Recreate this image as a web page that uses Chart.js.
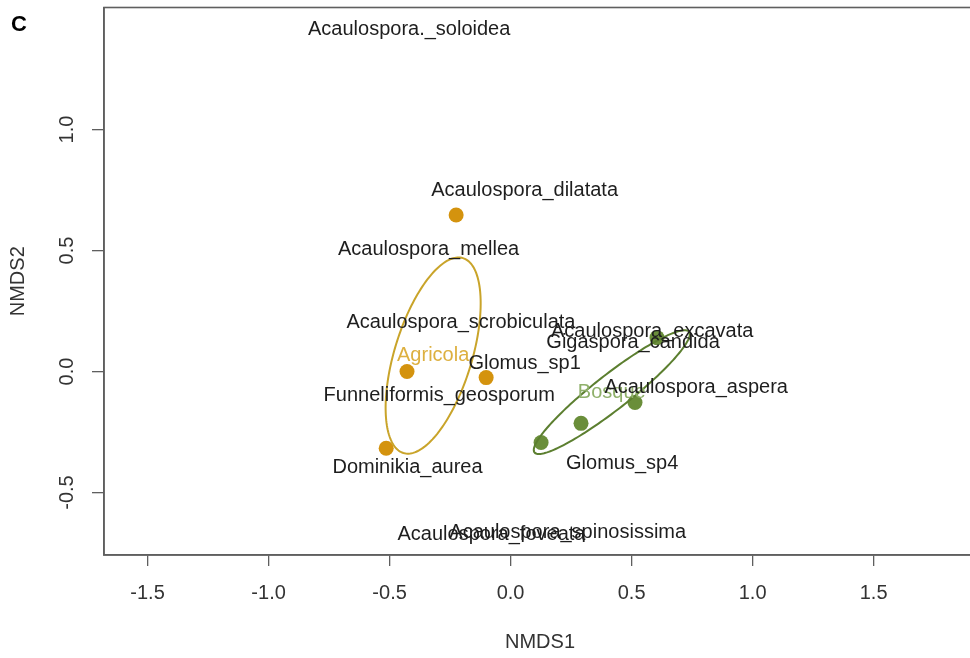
<!DOCTYPE html>
<html><head><meta charset="utf-8">
<script src="https://cdn.jsdelivr.net/npm/chart.js@4.4.1/dist/chart.umd.min.js"></script>
<style>
html,body{margin:0;padding:0;overflow:hidden;background:#fff;width:970px;height:658px}
#wrap{position:absolute;left:0;top:0;width:1010px;height:658px}
</style>
</head><body><div id="wrap"><canvas id="c"></canvas></div>
<script>
// ---- data ----
const xTickValues = [-1.5, -1.0, -0.5, 0.0, 0.5, 1.0, 1.5];
const yTickValues = [-0.5, 0.0, 0.5, 1.0];

const agricolaX = [-0.225, -0.428, -0.101, -0.514];
const agricolaY = [0.647, 0.000, -0.025, -0.317];
const bosqueX = [0.605, 0.514, 0.291, 0.126];
const bosqueY = [0.140, -0.128, -0.214, -0.293];

const speciesNames = [
  'Acaulospora._soloidea', 'Acaulospora_dilatata', 'Acaulospora_mellea',
  'Acaulospora_scrobiculata', 'Glomus_sp1', 'Funneliformis_geosporum',
  'Dominikia_aurea', 'Acaulospora_excavata', 'Gigaspora_candida',
  'Acaulospora_aspera', 'Glomus_sp4', 'Acaulospora_spinosissima',
  'Acaulospora_foveata'
];
const speciesX = [-0.419, 0.058, -0.339, -0.205, 0.058, -0.295, -0.426, 0.585, 0.506, 0.767, 0.461, 0.236, -0.079];
const speciesY = [1.413, 0.746, 0.503, 0.202, 0.033, -0.099, -0.396, 0.165, 0.119, -0.066, -0.379, -0.663, -0.672];

const groupNames = ['Agricola', 'Bosque'];
const ellipseCX = [-0.320, 0.418];
const ellipseCY = [0.066, -0.085];
const ellipseA = [0.421, 0.405];
const ellipseB = [0.160, 0.072];
const ellipseAngle = [73, 38];

// ---- styles ----
const FONT = '"Liberation Sans", Arial, Helvetica, sans-serif';
const orange = '#D4930E';
const green = '#6A8E3A';
const ellipseColors = ['#C9A42A', '#5C7F30'];
const groupTextColors = ['#DDB040', '#8FB06A'];
const axisColor = '#5f5f5f';
const textColor = '#1e1e1e';

const toPts = (xs, ys) => xs.map((v, i) => ({x: v, y: ys[i]}));

const overlay = {
  id: 'overlay',
  afterDatasetsDraw(chart) {
    const {ctx, chartArea: a, scales: {x, y}} = chart;
    ctx.save();
    // plot box
    ctx.strokeStyle = axisColor;
    ctx.lineWidth = 1.6;
    ctx.strokeRect(a.left, a.top, a.right - a.left, a.bottom - a.top);
    // ellipses
    for (let i = 0; i < ellipseCX.length; i++) {
      const phi = ellipseAngle[i] * Math.PI / 180;
      ctx.beginPath();
      for (let k = 0; k <= 180; k++) {
        const t = 2 * Math.PI * k / 180;
        const dx = ellipseA[i] * Math.cos(t), dy = ellipseB[i] * Math.sin(t);
        const px = ellipseCX[i] + dx * Math.cos(phi) - dy * Math.sin(phi);
        const py = ellipseCY[i] + dx * Math.sin(phi) + dy * Math.cos(phi);
        const sx = x.getPixelForValue(px), sy = y.getPixelForValue(py);
        if (k === 0) ctx.moveTo(sx, sy); else ctx.lineTo(sx, sy);
      }
      ctx.closePath();
      ctx.strokeStyle = ellipseColors[i];
      ctx.lineWidth = 2;
      ctx.stroke();
    }
    ctx.textAlign = 'center';
    ctx.textBaseline = 'middle';
    ctx.font = '20px ' + FONT;
    // group labels
    for (let i = 0; i < groupNames.length; i++) {
      ctx.fillStyle = groupTextColors[i];
      ctx.fillText(groupNames[i], x.getPixelForValue(ellipseCX[i]), y.getPixelForValue(ellipseCY[i]));
    }
    // species labels
    ctx.fillStyle = textColor;
    for (let i = 0; i < speciesNames.length; i++) {
      ctx.fillText(speciesNames[i], x.getPixelForValue(speciesX[i]), y.getPixelForValue(speciesY[i]));
    }
    // panel letter
    ctx.textAlign = 'left';
    ctx.font = 'bold 22px ' + FONT;
    ctx.fillStyle = '#000';
    ctx.fillText('C', 11, 25);
    ctx.restore();
  }
};

new Chart(document.getElementById('c'), {
  type: 'scatter',
  data: {
    datasets: [
      {label: 'Agricola', data: toPts(agricolaX, agricolaY), backgroundColor: orange, borderColor: orange, pointRadius: 7.5, borderWidth: 0},
      {label: 'Bosque', data: toPts(bosqueX, bosqueY), backgroundColor: green, borderColor: green, pointRadius: 7.5, borderWidth: 0}
    ]
  },
  options: {
    responsive: true,
    maintainAspectRatio: false,
    animation: false,
    layout: {padding: {left: 0, top: 6, right: 34, bottom: 0}},
    plugins: {legend: {display: false}, tooltip: {enabled: false}},
    scales: {
      x: {
        type: 'linear', position: 'bottom',
        min: -1.680, max: 1.923,
        afterFit: s => { s.height = 103; s.paddingLeft = 0; s.paddingRight = 0; },
        afterBuildTicks: s => { s.ticks = xTickValues.map(v => ({value: v})); },
        ticks: {
          includeBounds: false, padding: 15, color: '#333',
          font: {family: FONT, size: 20},
          callback: v => Number(v).toFixed(1)
        },
        grid: {display: true, drawOnChartArea: false, drawTicks: true, tickLength: 11, color: axisColor, lineWidth: 1.3},
        border: {display: true, color: axisColor, width: 1.6},
        title: {display: true, text: 'NMDS1', color: '#333', font: {family: FONT, size: 20}, padding: {top: 0, bottom: 4}}
      },
      y: {
        type: 'linear', position: 'left',
        min: -0.758, max: 1.504,
        afterFit: s => { s.width = 104; s.paddingTop = 0; s.paddingBottom = 0; },
        afterBuildTicks: s => { s.ticks = yTickValues.map(v => ({value: v})); },
        ticks: {
          includeBounds: false, padding: 7, color: '#333',
          minRotation: 90, maxRotation: 90, crossAlign: 'center',
          font: {family: FONT, size: 20},
          callback: v => Number(v).toFixed(1)
        },
        grid: {display: true, drawOnChartArea: false, drawTicks: true, tickLength: 12, color: axisColor, lineWidth: 1.3},
        border: {display: true, color: axisColor, width: 1.6},
        title: {display: true, text: 'NMDS2', color: '#333', font: {family: FONT, size: 20}, padding: {top: 6, bottom: 0}}
      }
    }
  },
  plugins: [overlay]
});
</script>
</body></html>
